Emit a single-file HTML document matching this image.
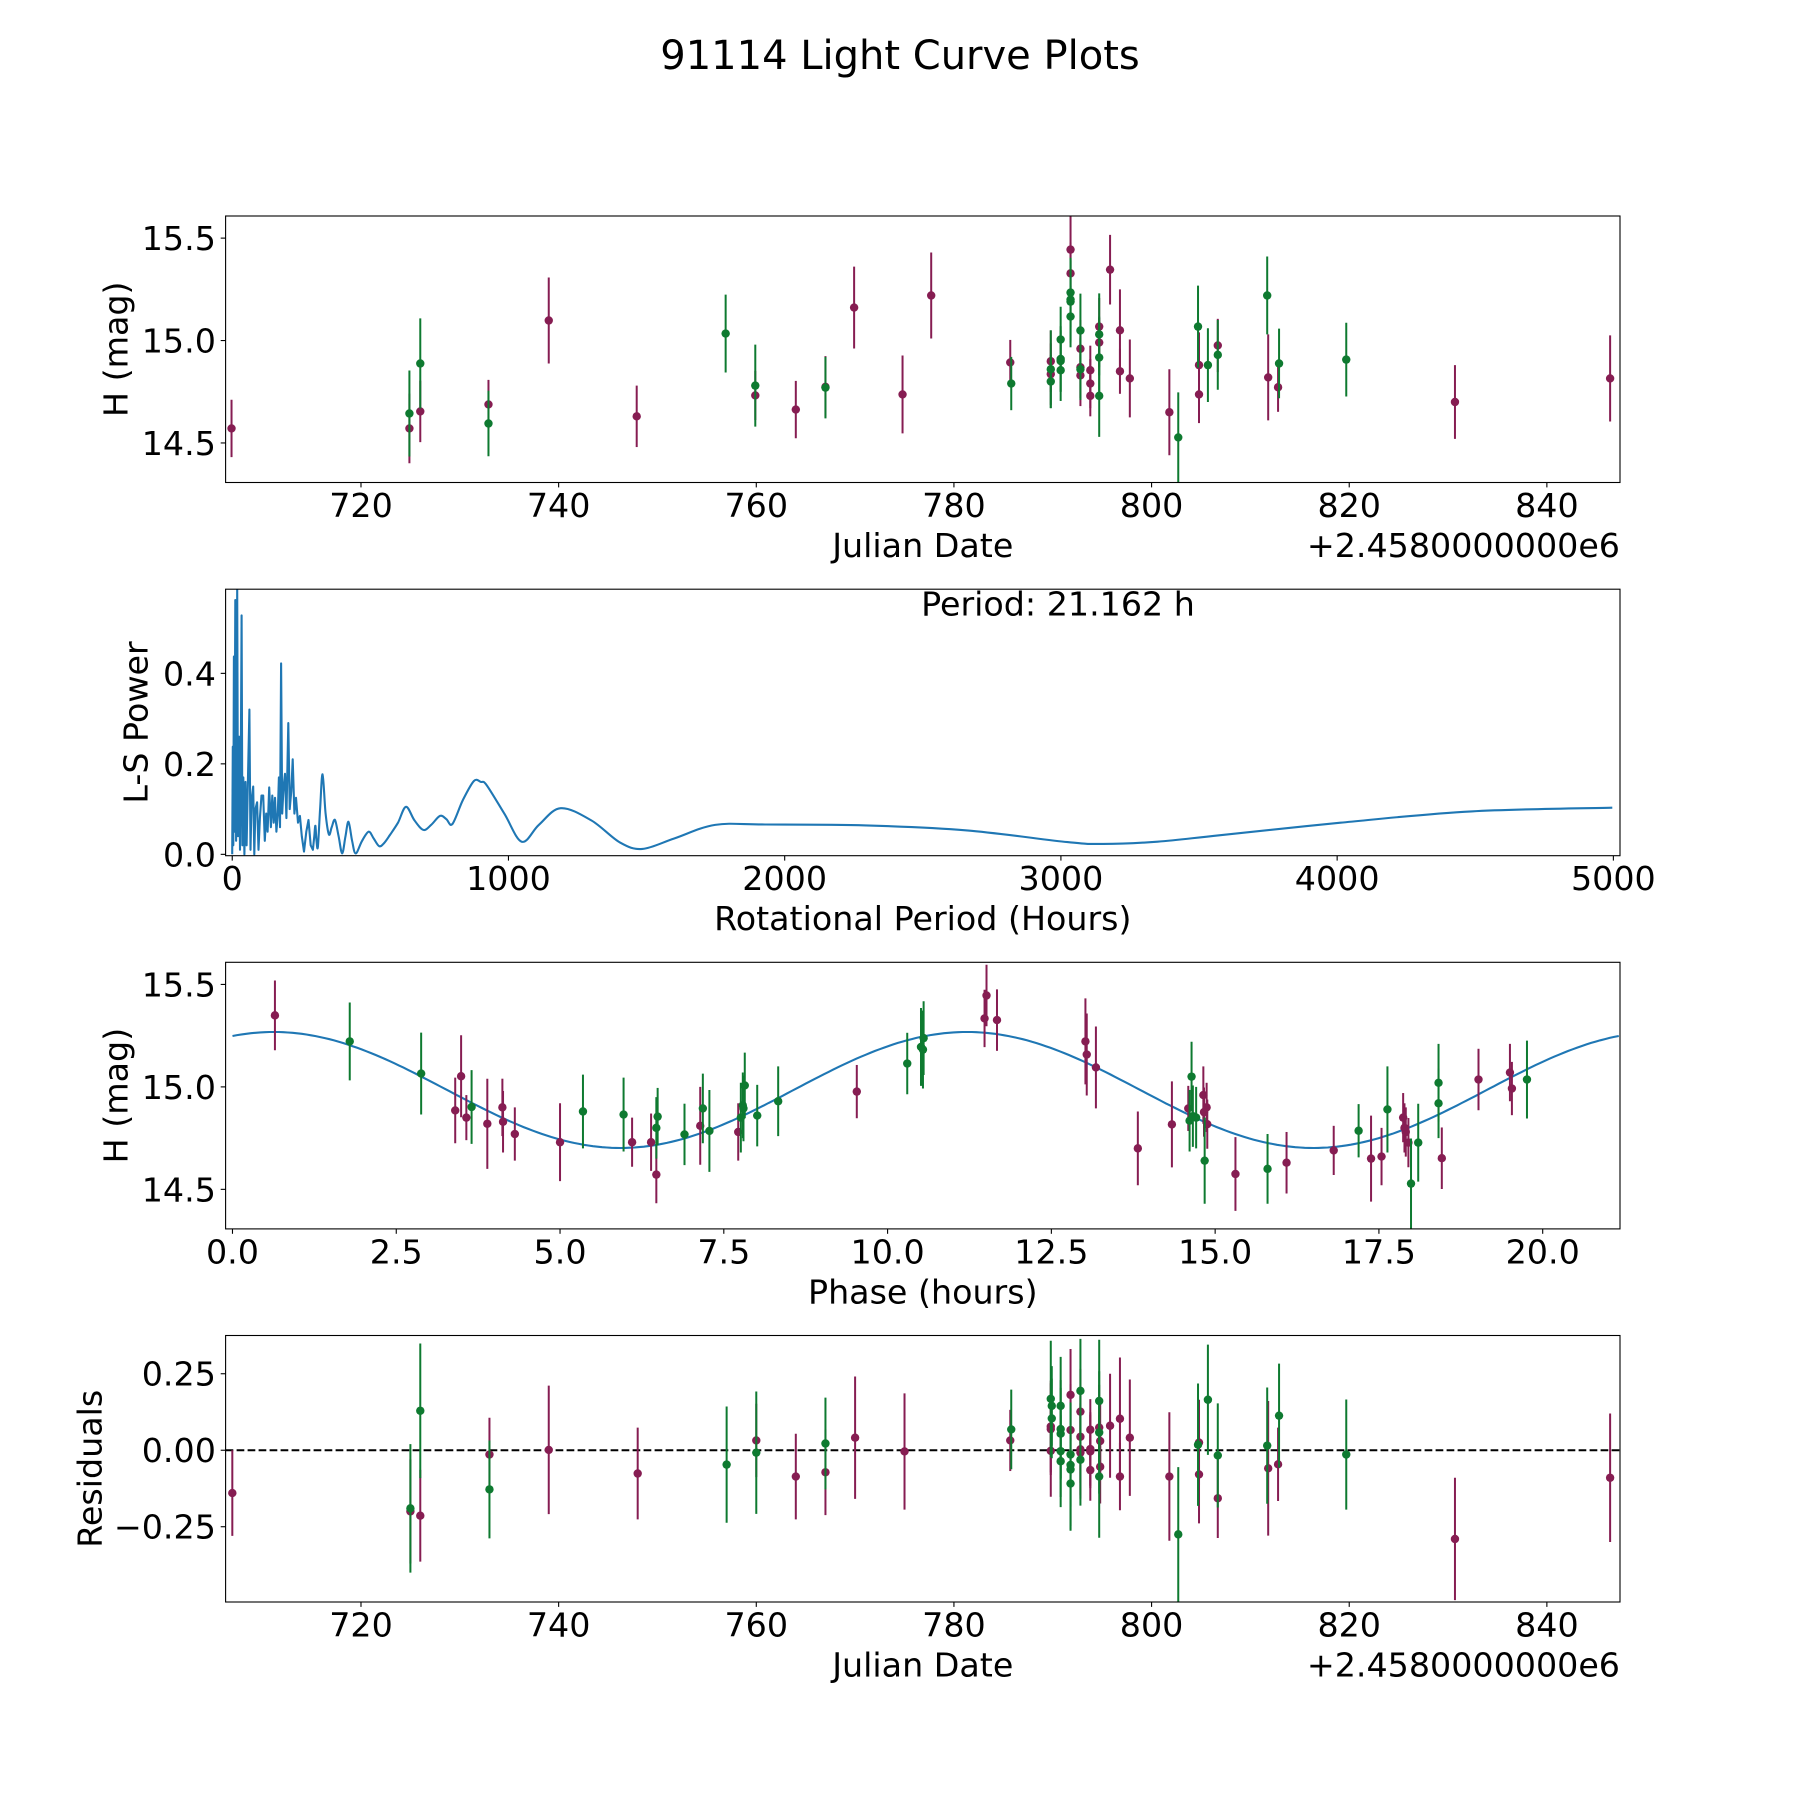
<!DOCTYPE html>
<html><head><meta charset="utf-8"><title>91114 Light Curve Plots</title>
<style>
html,body{margin:0;padding:0;background:#fff;}
svg{display:block;font-family:"DejaVu Sans","Liberation Sans",sans-serif;}
</style></head>
<body>
<svg id="fig" width="1800" height="1800" viewBox="0 0 1800 1800" xmlns="http://www.w3.org/2000/svg">
<rect x="0" y="0" width="1800" height="1800" fill="#fff"/>
<text x="900" y="69" font-size="40" text-anchor="middle">91114 Light Curve Plots</text>
</svg>
<script>
// ---- Panel 1: light curve (JD - 2458000) ----
const lcMaroonJd  = [706.9,724.9,726.0,732.9,739.0,747.9,759.9,764.0,767.0,769.9,774.8,777.7,785.7,789.8,789.8,791.8,791.8,792.8,792.8,792.8,793.8,793.8,793.8,794.7,794.7,795.8,796.8,796.8,797.8,801.8,804.8,804.8,806.7,811.8,812.8,830.7,846.4];
const lcMaroonMag = [14.571,14.571,14.654,14.688,15.098,14.630,14.732,14.663,14.774,15.161,14.737,15.220,14.893,14.899,14.836,15.444,15.328,14.960,14.870,14.830,14.855,14.790,14.730,15.068,14.990,15.346,15.050,14.850,14.815,14.650,14.880,14.737,14.976,14.820,14.772,14.700,14.815];
const lcMaroonErr = [0.14,0.17,0.15,0.12,0.21,0.15,0.12,0.14,0.15,0.20,0.19,0.21,0.11,0.15,0.15,0.20,0.15,0.14,0.15,0.15,0.12,0.12,0.10,0.14,0.12,0.17,0.20,0.11,0.19,0.21,0.16,0.14,0.13,0.21,0.12,0.18,0.21];
const lcGreenJd  = [724.9,726.0,732.9,756.9,759.9,767.0,785.8,789.8,789.8,790.8,790.8,790.8,790.8,791.8,791.8,791.8,791.8,792.8,792.8,794.7,794.7,794.7,802.7,804.7,805.7,806.7,811.7,812.9,819.7];
const lcGreenMag = [14.644,14.888,14.595,15.034,14.780,14.770,14.790,14.860,14.800,15.005,14.910,14.900,14.855,15.234,15.200,15.190,15.117,15.049,14.860,15.030,14.917,14.730,14.527,15.068,14.880,14.930,15.220,14.888,14.907];
const lcGreenErr = [0.21,0.22,0.16,0.19,0.20,0.15,0.13,0.19,0.13,0.16,0.16,0.15,0.15,0.17,0.20,0.20,0.15,0.18,0.15,0.20,0.20,0.20,0.22,0.20,0.18,0.17,0.19,0.17,0.18];
const jdTicks = [720,740,760,780,800,820,840];
const magTicks = [14.5,15.0,15.5];
const magTickLabels = ["14.5","15.0","15.5"];

// ---- Panel 2: periodogram ----
const lsPeriod = [0,2,4,6,8,11,14,18,21,25,28,31,34,37,40,44,48,52,56,62,66,70,76,80,84,90,95,100,106,112,118,123,128,134,140,145,150,155,160,165,169,173,177,181,186,191,196,203,208,214,219,225,231,238,245,252,260,268,276,284,292,297,301,305,310,318,327,338,350,360,372,385,398,410,421,434,447,470,494,512,532,550,571,600,629,660,692,720,752,775,797,835,875,900,921,985,1048,1110,1189,1300,1404,1485,1600,1748,1929,2294,2660,3024,3153,3350,3573,4012,4486,4996];
const lsPower = [0.0,0.238,0.02,0.437,0.05,0.562,0.03,0.586,0.04,0.26,0.01,0.2,0.528,0.02,0.17,0.0,0.16,0.02,0.14,0.32,0.01,0.12,0.15,0.0,0.1,0.115,0.01,0.08,0.13,0.13,0.03,0.09,0.05,0.148,0.06,0.13,0.07,0.125,0.05,0.09,0.17,0.06,0.422,0.09,0.15,0.178,0.08,0.29,0.1,0.14,0.21,0.09,0.125,0.07,0.085,0.04,0.006,0.05,0.076,0.02,0.01,0.04,0.063,0.03,0.017,0.1,0.177,0.09,0.044,0.06,0.076,0.04,0.002,0.04,0.072,0.03,0.002,0.03,0.05,0.035,0.018,0.025,0.043,0.07,0.105,0.075,0.054,0.065,0.085,0.078,0.067,0.12,0.162,0.16,0.153,0.09,0.028,0.065,0.102,0.075,0.026,0.012,0.035,0.065,0.066,0.064,0.053,0.027,0.023,0.028,0.042,0.07,0.095,0.103];
const lsTicks = [0,1000,2000,3000,4000,5000];
const powTicks = [0.0,0.2,0.4];
const powTickLabels = ["0.0","0.2","0.4"];

// ---- Panel 3: phased curve ----
const phMaroonPh  = [0.648,3.40,3.49,3.57,3.89,4.12,4.13,4.31,5.00,6.10,6.39,6.47,7.14,7.72,9.53,11.48,11.51,11.67,13.02,13.04,13.18,13.82,14.34,14.59,14.82,14.83,14.87,14.88,15.31,16.09,16.81,17.38,17.54,17.87,17.89,17.91,17.95,18.46,19.02,19.50,19.53];
const phMaroonMag = [15.349,14.885,15.052,14.850,14.820,14.900,14.830,14.770,14.730,14.730,14.730,14.572,14.810,14.780,14.977,15.334,15.446,15.326,15.222,15.158,15.095,14.700,14.817,14.895,14.960,14.877,14.900,14.818,14.575,14.630,14.690,14.650,14.660,14.850,14.800,14.780,14.728,14.652,15.036,15.070,14.992];
const phMaroonErr = [0.17,0.16,0.20,0.11,0.22,0.14,0.15,0.13,0.19,0.12,0.14,0.14,0.19,0.14,0.13,0.14,0.15,0.15,0.21,0.20,0.20,0.18,0.21,0.11,0.14,0.12,0.12,0.12,0.18,0.15,0.12,0.21,0.14,0.12,0.12,0.12,0.12,0.15,0.15,0.14,0.13];
const phGreenPh  = [1.79,2.88,3.65,5.35,5.97,6.47,6.49,6.90,7.18,7.28,7.76,7.79,7.80,7.82,8.01,8.33,10.30,10.51,10.54,10.55,14.61,14.64,14.66,14.71,14.84,15.80,17.19,17.63,17.99,18.10,18.41,18.41,19.76];
const phGreenMag = [15.222,15.065,14.902,14.880,14.865,14.800,14.855,14.768,14.895,14.785,14.850,14.910,14.895,15.007,14.860,14.930,15.114,15.195,15.182,15.238,14.835,15.050,14.857,14.850,14.640,14.600,14.786,14.890,14.528,14.728,15.020,14.920,15.036];
const phGreenErr = [0.19,0.20,0.18,0.18,0.18,0.15,0.14,0.15,0.17,0.20,0.17,0.16,0.16,0.16,0.15,0.17,0.15,0.19,0.19,0.18,0.15,0.17,0.15,0.15,0.21,0.17,0.13,0.21,0.22,0.19,0.19,0.17,0.19];
const fitMean = [14.985];
const fitAmp = [0.283];
const fitPeakPhase = [0.63];
const fitPeriod = [21.162];
const phaseTicks = [0,2.5,5,7.5,10,12.5,15,17.5,20];
const phaseTickLabels = ["0.0","2.5","5.0","7.5","10.0","12.5","15.0","17.5","20.0"];

// ---- Panel 4: residuals ----
const resMaroonJd  = [706.98,725,726,733,739,748,760,764,767,770,775,785.7,789.8,789.8,789.8,791.8,791.8,792.8,792.8,792.8,792.8,793.8,793.8,793.8,793.8,794.7,794.8,794.8,795.8,796.8,796.8,797.8,801.8,804.8,804.8,806.7,811.8,812.8,830.7,846.4];
const resMaroonVal = [-0.140,-0.200,-0.214,-0.014,0.001,-0.076,0.032,-0.086,-0.072,0.041,-0.004,0.032,0.0775,0.069,-0.002,0.181,0.066,0.126,0.044,0.003,-0.008,0.067,0.004,-0.004,-0.065,0.074,0.030,-0.054,0.080,0.103,-0.086,0.041,-0.086,0.025,-0.079,-0.157,-0.059,-0.046,-0.290,-0.090];
const resMaroonErr = [0.14,0.17,0.15,0.12,0.21,0.15,0.12,0.14,0.14,0.20,0.19,0.10,0.15,0.15,0.15,0.15,0.15,0.14,0.15,0.15,0.15,0.10,0.12,0.12,0.10,0.14,0.12,0.12,0.17,0.20,0.11,0.19,0.21,0.14,0.16,0.13,0.22,0.12,0.20,0.21];
const resGreenJd  = [725,726,733,757,760,767,785.8,789.8,789.9,789.9,790.8,790.8,790.8,790.8,790.8,791.8,791.8,791.8,791.8,792.8,792.8,794.7,794.7,794.7,802.7,804.7,805.7,806.7,811.7,812.9,819.7];
const resGreenVal = [-0.190,0.129,-0.128,-0.047,-0.008,0.022,0.068,0.168,0.145,0.104,0.145,0.069,0.054,-0.003,-0.036,-0.014,-0.048,-0.063,-0.109,0.194,-0.031,0.161,0.058,-0.086,-0.275,0.018,0.165,-0.017,0.015,0.113,-0.014];
const resGreenErr = [0.21,0.22,0.16,0.19,0.20,0.15,0.13,0.19,0.13,0.13,0.16,0.16,0.15,0.15,0.15,0.17,0.20,0.20,0.15,0.17,0.15,0.20,0.20,0.20,0.22,0.20,0.18,0.17,0.19,0.17,0.18];
const resTicks = [-0.25,0,0.25];
const resTickLabels = ["\u22120.25","0.00","0.25"];

const MAROON = "#861d52", GREEN = "#0e7a30", BLUE = "#1f77b4";
const svg = document.getElementById('fig');
const NS = "http://www.w3.org/2000/svg";
function mk(tag, attrs, parent){ const e=document.createElementNS(NS,tag); for(const k in attrs) e.setAttribute(k,attrs[k]); (parent||svg).appendChild(e); return e; }
function scale(d0,d1,p0,p1){ return v => p0 + (v-d0)/(d1-d0)*(p1-p0); }

const L=225.6, R=1620;
function makeAxes(id, top, bottom, xd, yd){
  const ax = {top, bottom, x: scale(xd[0],xd[1],L,R), y: scale(yd[0],yd[1],bottom,top)};
  const defs = mk('defs',{});
  const cp = mk('clipPath',{id:'clip-'+id},defs);
  mk('rect',{x:L,y:top,width:R-L,height:bottom-top},cp);
  ax.g = mk('g',{'clip-path':'url(#clip-'+id+')'});
  
  
  return ax;
}
function frame(ax, id){
  const r = mk('rect',{x:L,y:ax.top,width:R-L,height:ax.bottom-ax.top,fill:'none',stroke:'#000','stroke-width':1.1});
  
  
}
function xTicks(ax, id, vals, labels){
  const g = mk('g',{});
  
  
  vals.forEach((v,i)=>{
    const px = ax.x(v);
    mk('line',{x1:px,x2:px,y1:ax.bottom,y2:ax.bottom+4.9,stroke:'#000','stroke-width':1.1},g);
    const t = mk('text',{x:px,y:ax.bottom+34.5,'font-size':33.3,'text-anchor':'middle'},g);
    t.textContent = labels ? labels[i] : String(v);
    
    
  });
}
function yTicks(ax, id, vals, labels){
  const g = mk('g',{});
  
  
  vals.forEach((v,i)=>{
    const py = ax.y(v);
    mk('line',{x1:L-4.9,x2:L,y1:py,y2:py,stroke:'#000','stroke-width':1.1},g);
    const t = mk('text',{x:L-9.7,y:py+12,'font-size':33.3,'text-anchor':'end'},g);
    t.textContent = labels[i];
    
    
  });
}
function xLabel(ax, id, txt){
  const t = mk('text',{x:(L+R)/2,y:ax.bottom+74.5,'font-size':33.3,'text-anchor':'middle'});
  t.textContent = txt;
  
  
}
function yLabel(ax, id, txt, cx){
  const cy = (ax.top+ax.bottom)/2;
  const t = mk('text',{x:cx,y:cy,'font-size':33.3,'text-anchor':'middle','dominant-baseline':'central',transform:'rotate(-90 '+cx+' '+cy+')'});
  t.textContent = txt;
  
  
}
function offsetText(ax, id){
  const t = mk('text',{x:R,y:ax.bottom+74.5,'font-size':33.3,'text-anchor':'end'});
  t.textContent = '+2.4580000000e6';
  
  
}
function errPoints(ax, id, xs, ys, es, color, series){
  const g = mk('g',{},ax.g);
  
  
  xs.forEach((xv,i)=>{
    const px = ax.x(xv);
    const b = mk('line',{x1:px,x2:px,y1:ax.y(ys[i]-es[i]),y2:ax.y(ys[i]+es[i]),stroke:color,'stroke-width':2},g);
    
    
    const c = mk('circle',{cx:px,cy:ax.y(ys[i]),r:4.2,fill:color},g);
    
    
  });
}

// Panel 1
const a1 = makeAxes('light-curve', 216, 482.5, [706.3,847.4], [14.307,15.608]);
errPoints(a1,'light-curve',lcMaroonJd,lcMaroonMag,lcMaroonErr,MAROON,'maroon');
errPoints(a1,'light-curve',lcGreenJd,lcGreenMag,lcGreenErr,GREEN,'green');
frame(a1,'light-curve'); xTicks(a1,'light-curve',jdTicks); yTicks(a1,'light-curve',magTicks,magTickLabels);
xLabel(a1,'light-curve','Julian Date'); yLabel(a1,'light-curve','H (mag)',116); offsetText(a1,'light-curve');

// Panel 2
const a2 = makeAxes('periodogram', 589.2, 855.7, [-24,5024], [-0.003,0.586]);
const P = lsPeriod.map((p,i)=>[a2.x(p), a2.y(lsPower[i])]);
let d = 'M'+P[0][0].toFixed(1)+','+P[0][1].toFixed(1);
for(let i=1;i<P.length;i++){
  if(lsPeriod[i] <= 300){ d += ' L'+P[i][0].toFixed(1)+','+P[i][1].toFixed(1); continue; }
  const p0=P[Math.max(i-2,0)], p1=P[i-1], p2=P[i], p3=P[Math.min(i+1,P.length-1)];
  const c1x=p1[0]+(p2[0]-p0[0])/6, c1y=p1[1]+(p2[1]-p0[1])/6;
  const c2x=p2[0]-(p3[0]-p1[0])/6, c2y=p2[1]-(p3[1]-p1[1])/6;
  d += ' C'+c1x.toFixed(1)+','+c1y.toFixed(1)+' '+c2x.toFixed(1)+','+c2y.toFixed(1)+' '+p2[0].toFixed(1)+','+p2[1].toFixed(1);
}
const ls = mk('path',{d:d,fill:'none',stroke:BLUE,'stroke-width':2.1,'stroke-linejoin':'round'},a2.g);


frame(a2,'periodogram'); xTicks(a2,'periodogram',lsTicks); yTicks(a2,'periodogram',powTicks,powTickLabels);
xLabel(a2,'periodogram','Rotational Period (Hours)'); yLabel(a2,'periodogram','L-S Power',136);
const pt = mk('text',{x:1058,y:615.5,'font-size':33.3,'text-anchor':'middle'});
pt.textContent = 'Period: 21.162 h';



// Panel 3
const a3 = makeAxes('phase-curve', 962.3, 1228.9, [-0.105,21.18], [14.307,15.608]);
const modelPts = [];
for(let k=0;k<=300;k++){
  const ph = fitPeriod[0]*k/300;
  const m = fitMean[0] + fitAmp[0]*Math.cos(4*Math.PI*(ph-fitPeakPhase[0])/fitPeriod[0]);
  modelPts.push(a3.x(ph).toFixed(1)+','+a3.y(m).toFixed(1));
}
const ml = mk('polyline',{points:modelPts.join(' '),fill:'none',stroke:BLUE,'stroke-width':2.1},a3.g);


errPoints(a3,'phase-curve',phMaroonPh,phMaroonMag,phMaroonErr,MAROON,'maroon');
errPoints(a3,'phase-curve',phGreenPh,phGreenMag,phGreenErr,GREEN,'green');
frame(a3,'phase-curve'); xTicks(a3,'phase-curve',phaseTicks,phaseTickLabels); yTicks(a3,'phase-curve',magTicks,magTickLabels);
xLabel(a3,'phase-curve','Phase (hours)'); yLabel(a3,'phase-curve','H (mag)',116);

// Panel 4
const a4 = makeAxes('residuals', 1335.5, 1602, [706.3,847.4], [-0.496,0.375]);
const zl = mk('line',{x1:L,x2:R,y1:a4.y(0),y2:a4.y(0),stroke:'#000','stroke-width':2.1,'stroke-dasharray':'7.7,3.3'},a4.g);


errPoints(a4,'residuals',resMaroonJd,resMaroonVal,resMaroonErr,MAROON,'maroon');
errPoints(a4,'residuals',resGreenJd,resGreenVal,resGreenErr,GREEN,'green');
frame(a4,'residuals'); xTicks(a4,'residuals',jdTicks); yTicks(a4,'residuals',resTicks,resTickLabels);
xLabel(a4,'residuals','Julian Date'); yLabel(a4,'residuals','Residuals',90); offsetText(a4,'residuals');
</script>
</body></html>
